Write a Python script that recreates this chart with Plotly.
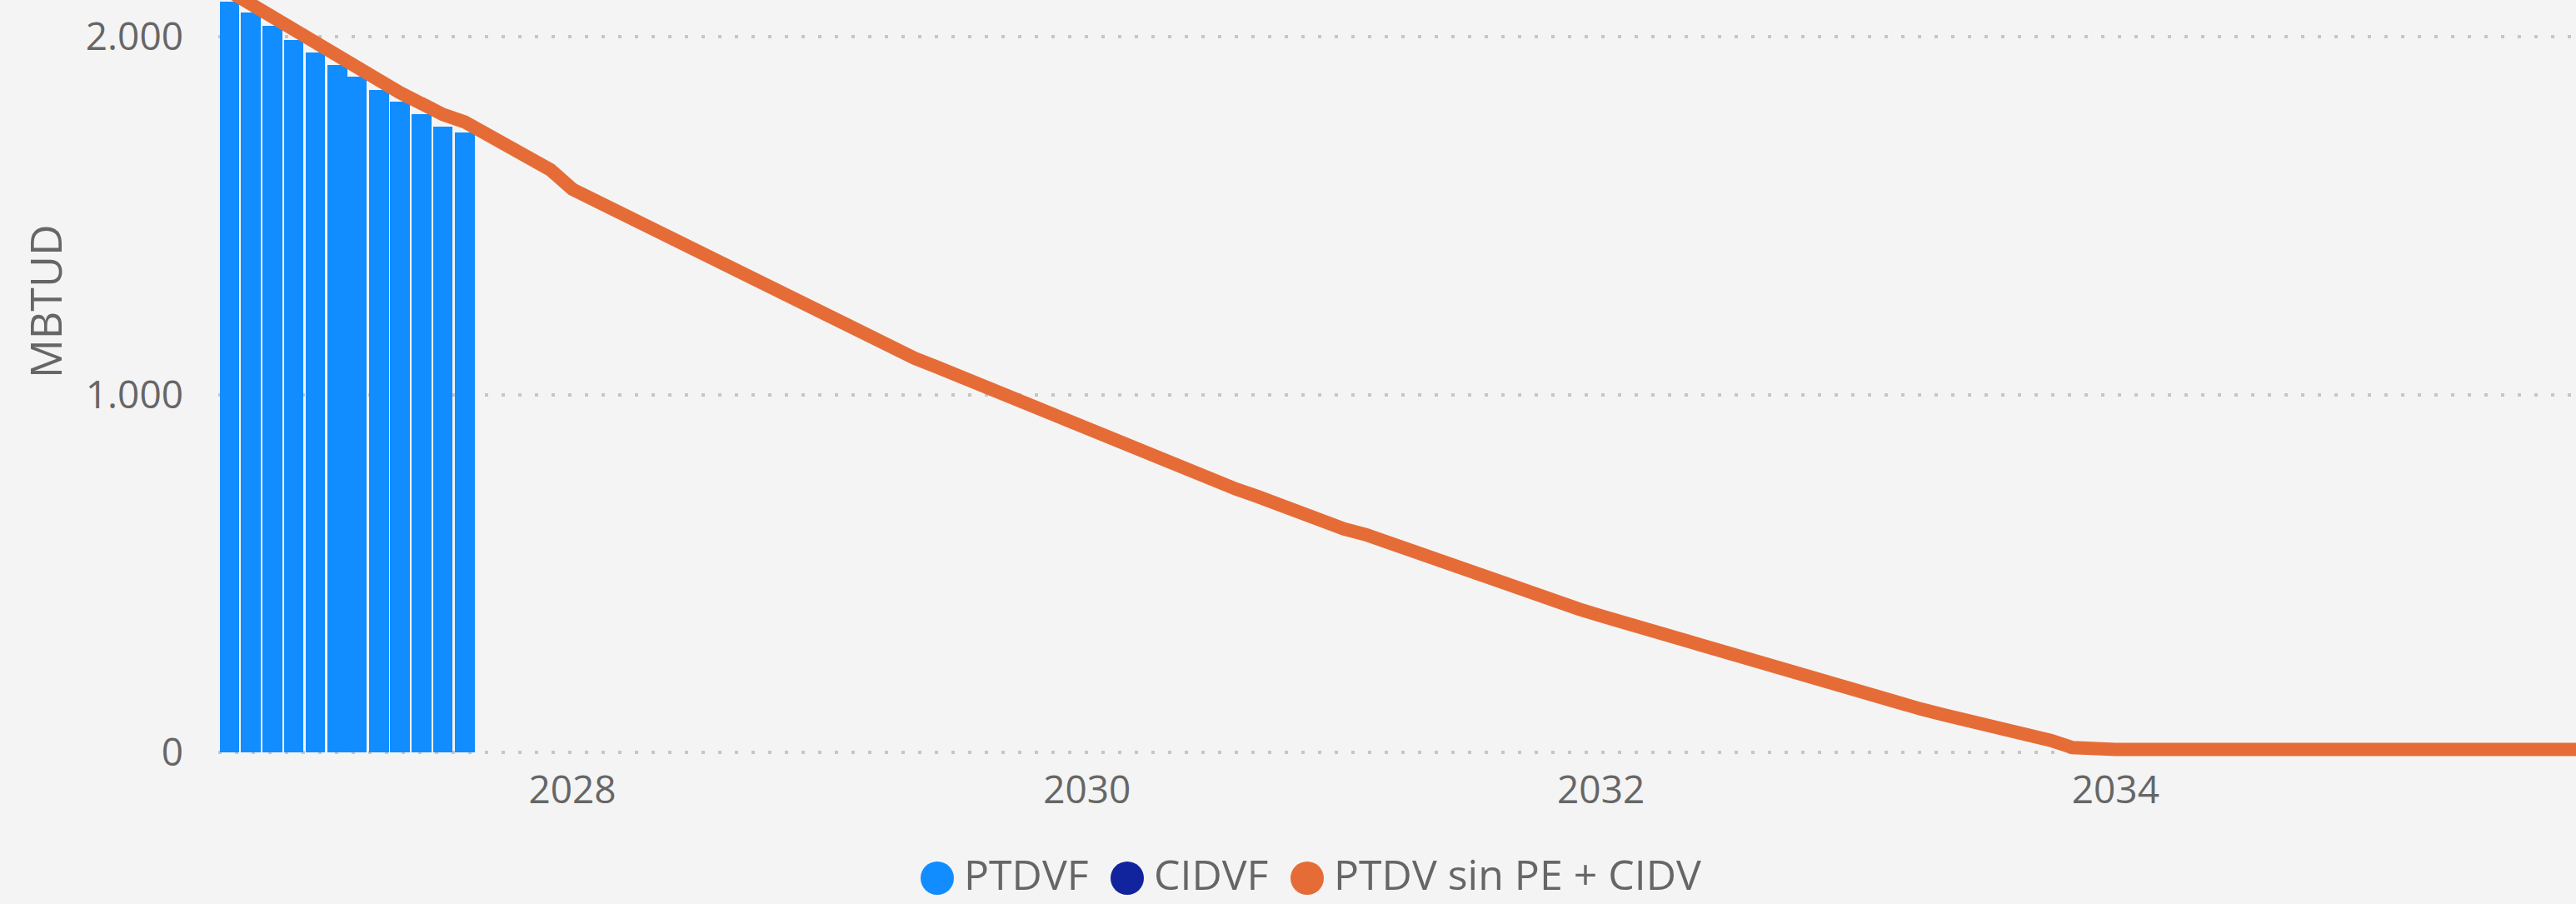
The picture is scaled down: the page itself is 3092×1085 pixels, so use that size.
import plotly.graph_objects as go
import pandas as pd

# ---------------- data ----------------
bar_start = "2026-09-01"
ptdvf = [2097, 2067, 2030, 1992, 1955, 1920, 1888, 1851, 1818, 1783, 1750, 1732]
cidvf = [0, 0, 0, 0, 0, 0, 0, 0, 0, 0, 0, 0]

line_start = "2026-08-01"
line_2026 = [2163, 2128, 2093, 2058, 2023]                                   # Aug-Dec
line_2027 = [1988, 1951, 1916, 1879, 1844, 1810, 1783, 1762, 1729, 1696, 1661, 1628]
line_2028 = [1574, 1544, 1516, 1483, 1451, 1420, 1391, 1361, 1331, 1302, 1271, 1240]
line_2029 = [1210, 1189, 1158, 1129, 1102, 1078, 1054, 1029, 1004, 974, 947, 922]
line_2030 = [897, 879, 854, 829, 809, 786, 762, 736, 715, 692, 668, 645]
line_2031 = [625, 609, 589, 567, 546, 527, 506, 482, 460, 440, 420, 401]
line_2032 = [382, 364, 346, 327, 309, 290, 273, 256, 240, 228, 209, 191]
line_2033 = [171, 152, 137, 121, 106, 92, 78, 65, 53, 34, 14, 9]
line_2034 = [9, 9, 9, 9, 9, 9, 9, 9, 9, 9, 9, 9]
line_2035 = [9, 9, 9, 9, 9, 9, 9, 9, 9, 9, 9]                                # Jan-Nov

x_tick_labels = ["2028", "2030", "2032", "2034"]
y_tick_values = [0, 1000, 2000]
y_tick_labels = ["0", "1.000", "2.000"]

series_names = ["PTDVF", "CIDVF", "PTDV sin PE + CIDV"]
series_colors = ["#118DFF", "#12239E", "#E66C37"]
y_title = "MBTUD"

# ---------------- build ----------------
line_values = (line_2026 + line_2027 + line_2028 + line_2029 + line_2030
               + line_2031 + line_2032 + line_2033 + line_2034 + line_2035)
bar_dates = pd.date_range(bar_start, periods=len(ptdvf), freq="MS")
line_dates = pd.date_range(line_start, periods=len(line_values), freq="MS")

W, H = 3092, 1085
L, R, T = 262, 0, 0
PH = 909                      # plot height (a little below the zero line so the thick line is not clipped)
B = H - T - PH
PW = W - L - R
ZERO_PX = 903.3               # pixel row of value 0
PX_PER_UNIT = 0.4296
y_range = [-(PH - ZERO_PX) / PX_PER_UNIT, ZERO_PX / PX_PER_UNIT]

BG = "#F4F4F4"
TXT = "#666666"
FONT = "Segoe UI, Open Sans, sans-serif"

fig = go.Figure()
fig.add_trace(go.Bar(x=bar_dates, y=ptdvf, name=series_names[0],
                     marker=dict(color=series_colors[0], line=dict(width=0)),
                     showlegend=False))
fig.add_trace(go.Bar(x=bar_dates, y=cidvf, name=series_names[1],
                     marker=dict(color=series_colors[1], line=dict(width=0)),
                     showlegend=False))
fig.add_trace(go.Scatter(x=line_dates, y=line_values, name=series_names[2],
                         mode="lines", line=dict(color=series_colors[2], width=16),
                         showlegend=False))

fig.update_layout(
    width=W, height=H,
    margin=dict(l=L, r=R, t=T, b=B, pad=0),
    paper_bgcolor=BG, plot_bgcolor=BG,
    barmode="stack", bargap=0,
    font=dict(family=FONT, color=TXT),
    showlegend=False,
)

fig.update_xaxes(
    type="date",
    range=["2026-08-16", "2035-10-17"],
    tickvals=[f"{y}-01-01" for y in x_tick_labels],
    ticktext=x_tick_labels,
    showgrid=False, zeroline=False, showline=False, ticks="",
    tickfont=dict(size=46, color=TXT, family=FONT),
    ticklabelstandoff=8,
)
fig.update_yaxes(
    range=y_range,
    tickvals=y_tick_values, ticktext=y_tick_labels,
    showgrid=True, gridcolor="#C8C6C4", gridwidth=4, griddash="4px,16px",
    zeroline=False, showline=False, ticks="",
    tickfont=dict(size=46, color=TXT, family=FONT),
    ticklabelstandoff=41,
)

def px_x(p):
    return (p - L) / PW

def px_y(p):
    return (T + PH - p) / PH

# y-axis title
fig.add_annotation(text=y_title, xref="paper", yref="paper",
                   x=px_x(53), y=px_y(361), textangle=-90,
                   showarrow=False, xanchor="center", yanchor="middle",
                   font=dict(size=52, color=TXT, family=FONT))

# manual legend (large round markers)
legend_text_y = 1049
legend_circle_y = 1054
legend_circle_x = [1125, 1353, 1569]
for name, color, cx in zip(series_names, series_colors, legend_circle_x):
    fig.add_shape(type="circle", xref="paper", yref="paper",
                  xsizemode="pixel", ysizemode="pixel",
                  xanchor=px_x(cx), yanchor=px_y(legend_circle_y),
                  x0=-20, x1=20, y0=-20, y1=20,
                  fillcolor=color, line=dict(width=0))
    fig.add_annotation(text=name, xref="paper", yref="paper",
                       x=px_x(cx + 30), y=px_y(legend_text_y),
                       showarrow=False, xanchor="left", yanchor="middle",
                       font=dict(size=50, color=TXT, family=FONT))

fig.write_html("out.html",
               config={"displayModeBar": False},
               post_script="document.body.style.margin='0';document.body.style.overflow='hidden';")
